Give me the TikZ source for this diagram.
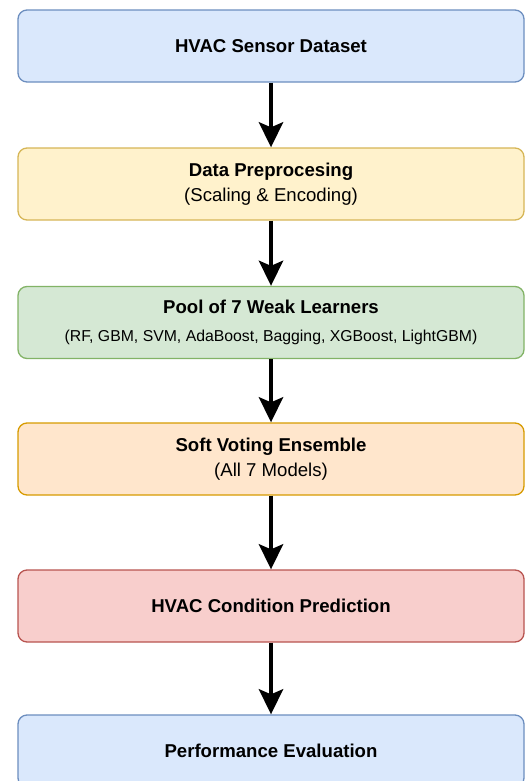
\documentclass[tikz,border=0pt]{standalone}
\usepackage{fontspec}
\setmainfont{Liberation Sans}
\usepackage{tikz}
\usetikzlibrary{arrows.meta}

\definecolor{BlueFill}{HTML}{DAE8FC}
\definecolor{BlueLine}{HTML}{6C8EBF}
\definecolor{YellowFill}{HTML}{FFF2CC}
\definecolor{YellowLine}{HTML}{D6B656}
\definecolor{GreenFill}{HTML}{D5E8D4}
\definecolor{GreenLine}{HTML}{82B366}
\definecolor{OrangeFill}{HTML}{FFE6CC}
\definecolor{OrangeLine}{HTML}{D79B00}
\definecolor{RedFill}{HTML}{F8CECC}
\definecolor{RedLine}{HTML}{B85450}

\begin{document}
\begin{tikzpicture}[>={Stealth[length=25bp,width=24bp,inset=5bp]},
	box/.style={draw, rounded corners=9bp, line width=1.3bp, minimum width=506bp,
		minimum height=72bp, inner sep=0pt, align=center,
		font=\fontsize{18.6bp}{25bp}\selectfont},
	flow/.style={->, line width=4.5bp}]
	\useasboundingbox (0bp,0bp) rectangle (525bp,-781bp);

	\node (data) at (271bp,-46bp)    [box, fill=BlueFill, draw=BlueLine]     {\textbf{HVAC Sensor Dataset}};
	\node (prep) at (271bp,-184bp)   [box, fill=YellowFill, draw=YellowLine] {\textbf{Data Preprocesing}\\(Scaling \& Encoding)};
	\node (pool) at (271bp,-322.5bp) [box, fill=GreenFill, draw=GreenLine]   {\textbf{Pool of 7 Weak Learners}\\[3bp]
		{\fontsize{15.8bp}{20bp}\selectfont (RF, GBM, SVM, AdaBoost, Bagging, XGBoost, LightGBM)}};
	\node (vote) at (271bp,-459bp)   [box, fill=OrangeFill, draw=OrangeLine] {\textbf{Soft Voting Ensemble}\\(All 7 Models)};
	\node (pred) at (271bp,-606bp)   [box, fill=RedFill, draw=RedLine]       {\textbf{HVAC Condition Prediction}};
	\node (eval) at (271bp,-751bp)   [box, fill=BlueFill, draw=BlueLine]     {\textbf{Performance Evaluation}};

	\draw [flow] (data) to (prep);
	\draw [flow] (prep) to (pool);
	\draw [flow] (pool) to (vote);
	\draw [flow] (vote) to (pred);
	\draw [flow] (pred) to (eval);
\end{tikzpicture}
\end{document}
